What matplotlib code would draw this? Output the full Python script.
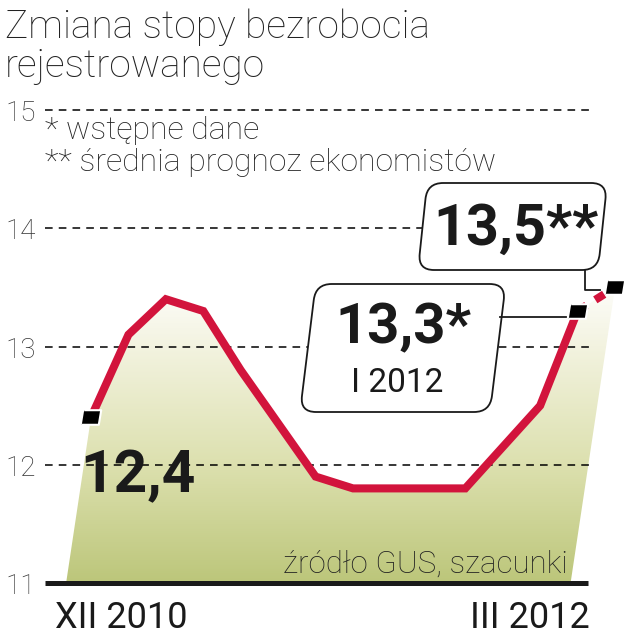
import numpy as np
import matplotlib
matplotlib.use("Agg")
import matplotlib.pyplot as plt
from matplotlib import font_manager
from matplotlib.patches import FancyBboxPatch, Polygon
from matplotlib.transforms import Affine2D, IdentityTransform, blended_transform_factory
from matplotlib.colors import LinearSegmentedColormap

# stopa bezrobocia, XII 2010 - II 2012 (I 2012 wstepne, II 2012 prognoza)
months = ["XII 2010", "I 2011", "II 2011", "III 2011", "IV 2011", "V 2011",
          "VI 2011", "VII 2011", "VIII 2011", "IX 2011", "X 2011", "XI 2011",
          "XII 2011", "I 2012", "II 2012"]
rate = [12.4, 13.1, 13.4, 13.3, 12.8, 12.35, 11.9, 11.8, 11.8, 11.8, 11.8,
        12.15, 12.5, 13.3, 13.5]
yticks = [11, 12, 13, 14, 15]
edge_labels = ["XII 2010", "III 2012"]
first_label = "12,4"
prelim_label = "13,3*"
prelim_month = "I 2012"
forecast_label = "13,5**"

W, H = 628, 640


def pick(*names):
    for n in names:
        try:
            font_manager.findfont(font_manager.FontProperties(family=n),
                                  fallback_to_default=False)
            return n
        except ValueError:
            continue
    return "DejaVu Sans"


narrow = pick("Liberation Sans Narrow")
have_narrow = narrow != "DejaVu Sans"
if not have_narrow:
    narrow = pick("Roboto")
big = 1.0 if have_narrow else 0.88
light = pick("Roboto", "Lato")

red = "#d2143c"
ink = "#1a1a1a"

fig = plt.figure(figsize=(W / 100, H / 100), dpi=100)
ax = fig.add_axes([0, 0, 1, 1])
ax.set_axis_off()

# pixel coords with origin top-left, for the layout text
px = Affine2D().scale(1, -1).translate(0, H)

x = np.arange(len(rate))
y = np.array(rate)

# gradient fill, sheared down-left like in the print graphic
k = 0.475
verts = list(zip(x, y)) + [(x[-1] - k * (y[-1] - 11), 11), (x[0] - k * (y[0] - 11), 11)]
poly = Polygon(verts, closed=True, facecolor="none", edgecolor="none")
ax.add_patch(poly)
cmap = LinearSegmentedColormap.from_list(
    "fill", [(0, "#bcc67a"), (0.38, "#dce0ae"), (0.77, "#f3f3e0"), (1, "#ffffff")])
grad = np.linspace(0, 1, 256).reshape(-1, 1)
im = ax.imshow(grad, extent=[-1.5, 14.5, 11, 13.6], origin="lower", cmap=cmap,
               aspect="auto", zorder=1)
im.set_clip_path(poly)

# grid
gx0, gx1 = -1.23, 13.33
ax.hlines(yticks[1:], gx0, gx1, colors="black", linestyles=(0, (5, 4)), lw=1.1, zorder=2)
ax.hlines(11, gx0, 13.28, colors=ink, lw=3.6, zorder=4)

ytrans = blended_transform_factory(IdentityTransform(), ax.transData) + Affine2D().translate(0, -11)
for t in yticks:
    ax.text(36, t, str(t), transform=ytrans, ha="right", va="baseline",
            fontsize=20, family=light, weight="light", color="#333333", zorder=7)

# line
ax.plot(x[:-1], y[:-1], color=red, lw=5.8, solid_joinstyle="miter", zorder=3)
ax.plot(x[-2:], y[-2:], color=red, lw=5.8, dashes=(1.3, 1.3), dash_capstyle="butt", zorder=3)
mk = [(-0.6, -0.45), (0.45, -0.45), (0.6, 0.45), (-0.45, 0.45)]
idx = [0, len(x) - 2, len(x) - 1]
ax.plot(x[idx], y[idx], linestyle="none", marker=mk, ms=14, mfc="black",
        mec="white", mew=1.5, zorder=5)

ax.set_xlim(-91 / 37.43, (W - 91) / 37.43)
ax.set_ylim(11 - (H - 583) / 118.25, 15 + 110 / 118.25)

# boxes
def box(x0, ybottom, w, h, skew):
    p = FancyBboxPatch((0, 0), w, h, boxstyle="round,pad=0,rounding_size=16",
                       facecolor="white", edgecolor=ink, lw=1.3, zorder=6)
    p.set_transform(Affine2D().skew_deg(skew, 0).translate(x0, H - ybottom))
    ax.add_patch(p)

box(418, 270, 180, 87, 6)
box(300, 412, 190, 128, 7)
ax.plot([585, 585, 600], [270, 290, 290], color=ink, lw=1.3, transform=px, zorder=6)
ax.plot([500, 566], [317, 317], color=ink, lw=1.3, transform=px, zorder=6)

# texts
ax.text(5, 38, "Zmiana stopy bezrobocia", transform=px, fontsize=28, family=light,
        weight="light", color="#222222", va="baseline")
ax.text(5, 77, "rejestrowanego", transform=px, fontsize=28, family=light,
        weight="light", color="#222222", va="baseline")
ax.text(45, 139, "* wstępne dane", transform=px, fontsize=23, family=light,
        weight="light", color="#222222", va="baseline", zorder=7)
ax.text(45, 171, "** średnia prognoz ekonomistów", transform=px, fontsize=23,
        family=light, weight="light", color="#222222", va="baseline", zorder=7)

ax.text(80, 492, first_label, transform=px, fontsize=50 * big * 0.96, family=narrow,
        weight="bold", color=ink, va="baseline", zorder=7)
ax.text(335, 343, prelim_label, transform=px, fontsize=46 * big, family=narrow,
        weight="bold", color=ink, va="baseline", zorder=7)
ax.text(397, 392, prelim_month, transform=px, fontsize=24, family=light,
        color=ink, ha="center", va="baseline", zorder=7)
ax.text(433, 245, forecast_label, transform=px, fontsize=47 * big, family=narrow,
        weight="bold", color=ink, va="baseline", zorder=7)

ax.text(568, 573, "źródło GUS, szacunki", transform=px, fontsize=22.5, family=light,
        weight="light", color="#222222", ha="right", va="baseline", zorder=7)

ax.text(55, 628, edge_labels[0], transform=px, fontsize=26, family=light,
        color=ink, va="baseline")
ax.text(590, 628, edge_labels[1], transform=px, fontsize=26, family=light,
        color=ink, ha="right", va="baseline")

fig.savefig("out.png", dpi=100)
